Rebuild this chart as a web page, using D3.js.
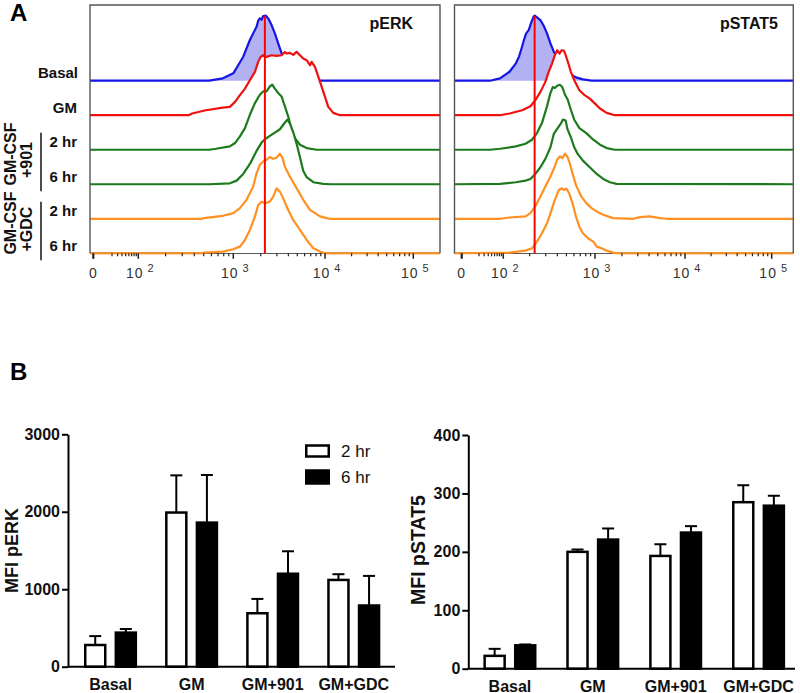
<!DOCTYPE html>
<html><head><meta charset="utf-8">
<script src="https://cdn.jsdelivr.net/npm/d3@7"></script>
<style>body{margin:0;background:#fff}svg{display:block}</style>
</head><body>
<svg id="fig" width="800" height="693"></svg>
<script>
// ---------------- DATA ----------------
// Histogram rows (top to bottom)
const rowNames = ["Basal", "GM", "GM-CSF+901 2 hr", "GM-CSF+901 6 hr", "GM-CSF+GDC 2 hr", "GM-CSF+GDC 6 hr"];
const rowLabels = ["Basal", "GM", "2 hr", "6 hr", "2 hr", "6 hr"];
const groupLabels = [["GM-CSF", "+901"], ["GM-CSF", "+GDC"]];
// histogram axis ticks (fluorescence intensity)
const histTickValues = [0, 100, 1000, 10000, 100000];
const histTickExp = [null, 2, 3, 4, 5];
// gate = basal mode
const perkGate = 2218;
const pstatGate = 227;
// curves: [log10 intensity, % of mode]
const perkBasal = [[2.755,0],[2.895,3.6],[3.000,11.3],[3.055,24.1],[3.109,36.9],[3.182,62.6],[3.218,72.8],[3.255,83.1],[3.273,92.3],[3.291,95.9],[3.310,93.8],[3.327,99.5],[3.357,100],[3.382,95.9],[3.419,85.6],[3.455,72.8],[3.491,57.4],[3.546,35],[3.619,15],[3.691,5],[3.801,0]];
const perkGM = [[2.544,0],[2.579,2.6],[2.720,7.7],[2.895,11.8],[2.965,12.8],[3.019,20.5],[3.073,30.8],[3.128,41],[3.182,53.8],[3.237,66.7],[3.273,82.1],[3.299,89.7],[3.327,92.3],[3.364,89.7],[3.419,92.3],[3.473,91.3],[3.528,92.3],[3.564,97.4],[3.582,94.9],[3.619,95.9],[3.655,92.8],[3.691,97.4],[3.728,92.3],[3.764,87.2],[3.801,84.6],[3.837,76.9],[3.855,82.1],[3.891,74.4],[3.928,59],[3.964,43.6],[4.000,28.2],[4.037,12.8],[4.094,3.6],[4.170,0]];
const perk901h2 = [[2.755,0],[2.825,1.5],[2.965,5.1],[3.019,10.3],[3.073,20.5],[3.128,33.3],[3.182,53.8],[3.237,71.8],[3.291,84.6],[3.327,89.7],[3.364,89.7],[3.400,97.4],[3.426,100],[3.455,94],[3.491,87.2],[3.528,82],[3.564,66.7],[3.600,51.3],[3.637,30.8],[3.673,17.9],[3.728,7.7],[3.801,2.6],[3.910,0]];
const perk901h6 = [[2.755,0],[2.965,1.5],[3.037,5.6],[3.109,15.9],[3.182,31.3],[3.255,51.3],[3.310,64.1],[3.346,69.2],[3.400,74.4],[3.455,79.5],[3.510,84.6],[3.564,95],[3.593,99.5],[3.619,93.3],[3.655,80],[3.691,62.6],[3.728,41.5],[3.764,20.5],[3.801,10.8],[3.873,3.1],[3.982,0.5],[4.057,0]];
const perkGDCh2 = [[2.684,0],[2.702,1],[2.895,4.6],[3.000,8.7],[3.073,16.4],[3.146,29.2],[3.218,49.7],[3.255,70],[3.291,83.1],[3.327,88.2],[3.364,90.8],[3.400,94.9],[3.437,92.3],[3.473,93.8],[3.510,100],[3.539,93.3],[3.564,80],[3.619,64.6],[3.691,47.2],[3.764,29.2],[3.837,13.8],[3.946,3.6],[4.019,1],[4.057,0]];
const perkGDCh6 = [[2.684,0],[2.702,1],[2.895,2.6],[3.000,6.2],[3.073,10.3],[3.128,20.5],[3.182,35.9],[3.237,56.4],[3.273,74.4],[3.310,79.5],[3.346,76.9],[3.400,79.5],[3.437,87.2],[3.473,100],[3.510,94.9],[3.546,84.6],[3.600,66.7],[3.655,51.3],[3.728,35.9],[3.801,20.5],[3.873,7.7],[3.946,2.6],[4.000,0]];

const pstatBasal = [[1.652,0],[1.919,3.6],[2.073,13.8],[2.146,26.7],[2.182,37],[2.211,50],[2.237,62.6],[2.262,72.8],[2.291,77.9],[2.320,90],[2.346,99],[2.357,100],[2.382,97.4],[2.419,93.3],[2.455,84.6],[2.491,72.8],[2.528,57.4],[2.564,44.6],[2.619,31],[2.673,20.5],[2.728,11.3],[2.800,5.1],[2.873,2],[2.964,0]];
const pstatGM = [[1.919,0],[2.073,2.6],[2.218,7.7],[2.310,13.8],[2.364,23.1],[2.419,35.9],[2.473,51.3],[2.509,66.7],[2.545,79.5],[2.575,92.3],[2.600,100],[2.626,94.9],[2.648,100],[2.673,99],[2.691,92.3],[2.720,79.5],[2.746,66.7],[2.782,53.8],[2.836,38.5],[2.891,30.8],[2.945,25.6],[3.000,17.9],[3.056,10.3],[3.130,3.6],[3.222,0]];
const pstat901h2 = [[1.652,0],[1.919,1.5],[2.146,5.1],[2.255,9.2],[2.327,15.4],[2.382,25.6],[2.436,41],[2.491,66.7],[2.528,87.2],[2.553,96.4],[2.575,94.9],[2.600,98.5],[2.629,100],[2.655,96.4],[2.684,84.6],[2.713,76.9],[2.746,61.5],[2.782,46.2],[2.836,33.3],[2.909,25.6],[2.982,15.4],[3.056,7.7],[3.130,2.6],[3.222,0]];
const pstat901h6 = [[1.919,0.5],[2.146,3.1],[2.255,5.6],[2.310,8.2],[2.364,15.9],[2.419,26.2],[2.473,39],[2.528,56.9],[2.564,77.4],[2.600,85.1],[2.637,92.8],[2.662,99.5],[2.691,97.9],[2.709,85.1],[2.746,72.3],[2.782,56.9],[2.818,46.7],[2.873,36.4],[2.945,26.2],[3.019,15.9],[3.092,8.2],[3.167,3.1],[3.241,0.5]];
const pstatGDCh2 = [[1.919,0],[2.073,2],[2.255,3.6],[2.310,8.7],[2.364,19],[2.419,34.4],[2.473,49.7],[2.528,65.1],[2.575,80.5],[2.600,90.8],[2.629,95.9],[2.655,93.3],[2.684,100],[2.709,95.4],[2.735,85.1],[2.764,69.7],[2.800,51.8],[2.855,34.4],[2.909,24.1],[2.964,16.4],[3.019,11.3],[3.092,6.2],[3.203,1],[3.426,0],[3.500,2.6],[3.611,3.6],[3.722,1],[3.796,0]];
const pstatGDCh6 = [[2.073,1],[2.255,4.1],[2.327,7.7],[2.382,17.9],[2.436,30.8],[2.491,46.2],[2.528,61.5],[2.575,82.1],[2.619,97.4],[2.648,100],[2.673,97.4],[2.698,99.5],[2.728,92.3],[2.764,76.9],[2.800,56.4],[2.836,41],[2.873,30.8],[2.927,23.1],[2.982,17.9],[3.019,10.3],[3.074,7.7],[3.130,4.1],[3.203,1],[3.259,0]];

// Bar charts
const groups = ["Basal", "GM", "GM+901", "GM+GDC"];
const times = ["2 hr", "6 hr"];
const perkMean2h = [280, 1990, 690, 1120];
const perkErr2h  = [115, 480, 185, 74];
const perkMean6h = [440, 1860, 1200, 790];
const perkErr6h  = [47, 615, 290, 382];
const perkTicks = [0, 1000, 2000, 3000];
const pstatMean2h = [22, 200, 193, 285];
const pstatErr2h  = [12, 4, 20, 29];
const pstatMean6h = [40, 221, 233, 279];
const pstatErr6h  = [1.5, 19, 11, 17];
const pstatTicks = [0, 100, 200, 300, 400];

// ---------------- STYLE ----------------
const FONT = "'Liberation Sans', Arial, Helvetica, sans-serif";
const rowColors = ["#1515e6", "#f01010", "#1d7a1d", "#1d7a1d", "#ff9122", "#ff9122"];
const basalFill = "#b1b1f3";
const svg = d3.select("#fig").style("font-family", FONT);
const defs = svg.append("defs");

// ---------------- HISTOGRAMS ----------------
const histTop = 5, histBottom = 253.3;
function histPanel(cfg) {
  const g = svg.append("g");
  const x = d3.scaleSymlog().constant(15).domain(histTickValues).range(cfg.anchors);
  const y = d3.scalePoint().domain(d3.range(rowNames.length)).range([80.7, histBottom]);
  const h = d3.scaleLinear().domain([0, 100]).range([0, 65]);

  defs.append("clipPath").attr("id", "clip-" + cfg.id)
    .append("rect").attr("x", cfg.left).attr("y", histTop)
    .attr("width", cfg.right - cfg.left).attr("height", histBottom - histTop + 1.5);

  g.append("line").attr("x1", cfg.left).attr("x2", cfg.right)
    .attr("y1", histBottom).attr("y2", histBottom)
    .attr("stroke", "#222").attr("stroke-width", 1.6);

  const plot = g.append("g").attr("clip-path", `url(#clip-${cfg.id})`);
  cfg.curves.forEach((pts, i) => {
    const base = y(i);
    const coords = [[cfg.left, base]]
      .concat(pts.map(p => [x(Math.pow(10, p[0])), base - h(p[1])]))
      .concat([[cfg.right, base]]);
    plot.append("path")
      .attr("d", d3.area().x(d => d[0]).y0(base).y1(d => d[1])(coords))
      .attr("fill", i === 0 ? basalFill : "#fff");
    plot.append("path")
      .attr("d", d3.line()(coords))
      .attr("fill", "none").attr("stroke", rowColors[i])
      .attr("stroke-width", 2.2).attr("stroke-linejoin", "round");
  });

  g.append("path")
    .attr("d", `M${cfg.left},${histBottom}V${histTop}H${cfg.right}V${histBottom}`)
    .attr("fill", "none").attr("stroke", "#555").attr("stroke-width", 1.4);

  const minors = [];
  for (let k = 2; k <= 9; k++) minors.push(k * 10);
  [100, 1000, 10000].forEach(d => { for (let k = 2; k <= 9; k++) minors.push(k * d); });
  g.selectAll(".minor").data(minors).join("line")
    .attr("x1", d => x(d)).attr("x2", d => x(d))
    .attr("y1", histBottom).attr("y2", histBottom + 3)
    .attr("stroke", "#222").attr("stroke-width", 1.2);
  g.selectAll(".major").data(histTickValues).join("line")
    .attr("x1", d => x(d)).attr("x2", d => x(d))
    .attr("y1", histBottom).attr("y2", histBottom + 5.5)
    .attr("stroke", "#222").attr("stroke-width", (d, i) => i === 0 ? 2.2 : 1.5);
  histTickValues.forEach((v, i) => {
    const t = g.append("text").attr("x", x(v) + (i === 0 ? 0 : 2)).attr("y", 278)
      .attr("text-anchor", "middle").attr("font-size", 14).attr("fill", "#333")
      .attr("letter-spacing", 1);
    if (histTickExp[i] === null) t.text("0");
    else {
      t.append("tspan").text("10");
      t.append("tspan").attr("dx", 4).attr("dy", -6).attr("font-size", 11).text(histTickExp[i]);
    }
  });

  g.append("line").attr("x1", x(cfg.gate)).attr("x2", x(cfg.gate))
    .attr("y1", y(0) - h(100)).attr("y2", histBottom)
    .attr("stroke", "#ff0000").attr("stroke-width", 2);

  g.append("text").attr("x", cfg.titleX).attr("y", 29).attr("text-anchor", "end")
    .attr("font-size", 16).attr("font-weight", "bold").attr("fill", "#111").text(cfg.title);
  return y;
}

const yRows = histPanel({ id: "perk", left: 90, right: 440, anchors: [93.3, 138.3, 233.3, 325, 413.3],
  curves: [perkBasal, perkGM, perk901h2, perk901h6, perkGDCh2, perkGDCh6], gate: perkGate,
  title: "pERK", titleX: 413 });
histPanel({ id: "pstat", left: 454.5, right: 793.3, anchors: [461.7, 503.3, 595, 685, 771.7],
  curves: [pstatBasal, pstatGM, pstat901h2, pstat901h6, pstatGDCh2, pstatGDCh6], gate: pstatGate,
  title: "pSTAT5", titleX: 778 });

rowLabels.forEach((lab, i) => {
  svg.append("text").attr("x", i === 0 ? 78 : 77).attr("y", yRows(i) - 2.5)
    .attr("text-anchor", "end").attr("font-size", 15).attr("font-weight", "bold")
    .attr("fill", "#111").text(lab);
});
[[2, 3], [4, 5]].forEach((pair, gi) => {
  const y1 = yRows(pair[0]) - 17, y2 = yRows(pair[1]) + 7;
  svg.append("line").attr("x1", 41).attr("x2", 41).attr("y1", y1).attr("y2", y2)
    .attr("stroke", "#111").attr("stroke-width", 1.5);
  const cy = (y1 + y2) / 2;
  svg.append("text").attr("transform", `translate(15.5,${cy - 8}) rotate(-90)`)
    .attr("text-anchor", "middle").attr("font-size", 16).attr("font-weight", "bold")
    .attr("fill", "#111").text(groupLabels[gi][0]);
  svg.append("text").attr("transform", `translate(32,${cy - 2}) rotate(-90)`)
    .attr("text-anchor", "middle").attr("font-size", 16).attr("font-weight", "bold")
    .attr("fill", "#111").text(groupLabels[gi][1]);
});

svg.append("text").attr("x", 10).attr("y", 21).attr("font-size", 24).attr("font-weight", "bold").text("A");
svg.append("text").attr("x", 10).attr("y", 380).attr("font-size", 24).attr("font-weight", "bold").text("B");

// ---------------- BAR CHARTS ----------------
function barChart(cfg) {
  const g = svg.append("g");
  const x0 = d3.scaleBand().domain(groups).range(cfg.band);
  const inner = 50.6;
  const x1 = d3.scaleBand().domain(times).range([0, inner]).paddingInner(0.346);
  const off = (x0.bandwidth() - inner) / 2;
  const y = d3.scaleLinear().domain([0, cfg.max]).range(cfg.yRange);

  const means = [cfg.m2, cfg.m6], errs = [cfg.e2, cfg.e6];
  groups.forEach((grp, gi) => {
    times.forEach((t, ti) => {
      const bx = x0(grp) + off + x1(t);
      const cx = bx + x1.bandwidth() / 2;
      const v = means[ti][gi], e = errs[ti][gi];
      g.append("line").attr("x1", cx).attr("x2", cx).attr("y1", y(v)).attr("y2", y(v + e))
        .attr("stroke", "#000").attr("stroke-width", 2);
      g.append("line").attr("x1", cx - 6).attr("x2", cx + 6).attr("y1", y(v + e)).attr("y2", y(v + e))
        .attr("stroke", "#000").attr("stroke-width", 2);
      g.append("rect").attr("x", bx).attr("width", x1.bandwidth())
        .attr("y", y(v)).attr("height", y(0) - y(v))
        .attr("fill", ti === 0 ? "#fff" : "#000").attr("stroke", "#000").attr("stroke-width", 2.5);
    });
    g.append("text").attr("x", x0(grp) + x0.bandwidth() / 2).attr("y", cfg.labelY)
      .attr("text-anchor", "middle").attr("font-size", 16).attr("font-weight", "bold")
      .attr("fill", "#111").text(grp);
  });

  const ax = g.append("g").attr("transform", `translate(${cfg.axisX},0)`)
    .call(d3.axisLeft(y).tickValues(cfg.ticks).tickFormat(d3.format("d"))
      .tickSize(6).tickPadding(2).tickSizeOuter(0));
  ax.select(".domain").attr("stroke", "#000").attr("stroke-width", 2);
  ax.selectAll(".tick line").attr("stroke", "#000").attr("stroke-width", 2);
  ax.selectAll(".tick text").attr("font-family", FONT).attr("font-size", 16)
    .attr("font-weight", "bold").attr("fill", "#111");
  g.append("line").attr("x1", cfg.axisX).attr("x2", cfg.xEnd).attr("y1", y(0)).attr("y2", y(0))
    .attr("stroke", "#000").attr("stroke-width", 2);

  g.append("text").attr("transform", `translate(${cfg.titleX},${cfg.titleY}) rotate(-90)`)
    .attr("text-anchor", "middle").attr("font-size", cfg.titleSize).attr("font-weight", "bold")
    .attr("fill", "#111").text(cfg.title);
}

barChart({ band: [70, 394.3], max: 3000, yRange: [666.7, 434.3], axisX: 68, xEnd: 395,
  m2: perkMean2h, e2: perkErr2h, m6: perkMean6h, e6: perkErr6h, ticks: perkTicks,
  labelY: 689.5, title: "MFI pERK", titleX: 18, titleY: 550.5, titleSize: 18 });
barChart({ band: [468.5, 800], max: 400, yRange: [668.7, 435], axisX: 468.3, xEnd: 795,
  m2: pstatMean2h, e2: pstatErr2h, m6: pstatMean6h, e6: pstatErr6h, ticks: pstatTicks,
  labelY: 691.5, title: "MFI pSTAT5", titleX: 425, titleY: 550, titleSize: 19.5 });

const leg = svg.append("g");
times.forEach((t, i) => {
  leg.append("rect").attr("x", 306.25).attr("y", i === 0 ? 445.5 : 470.5)
    .attr("width", 22.5).attr("height", i === 0 ? 11 : 13)
    .attr("fill", i === 0 ? "#fff" : "#000").attr("stroke", "#000").attr("stroke-width", 2.5);
  leg.append("text").attr("x", 341).attr("y", i === 0 ? 457 : 483)
    .attr("font-size", 17).attr("fill", "#111").text(t);
});
</script>
</body></html>
